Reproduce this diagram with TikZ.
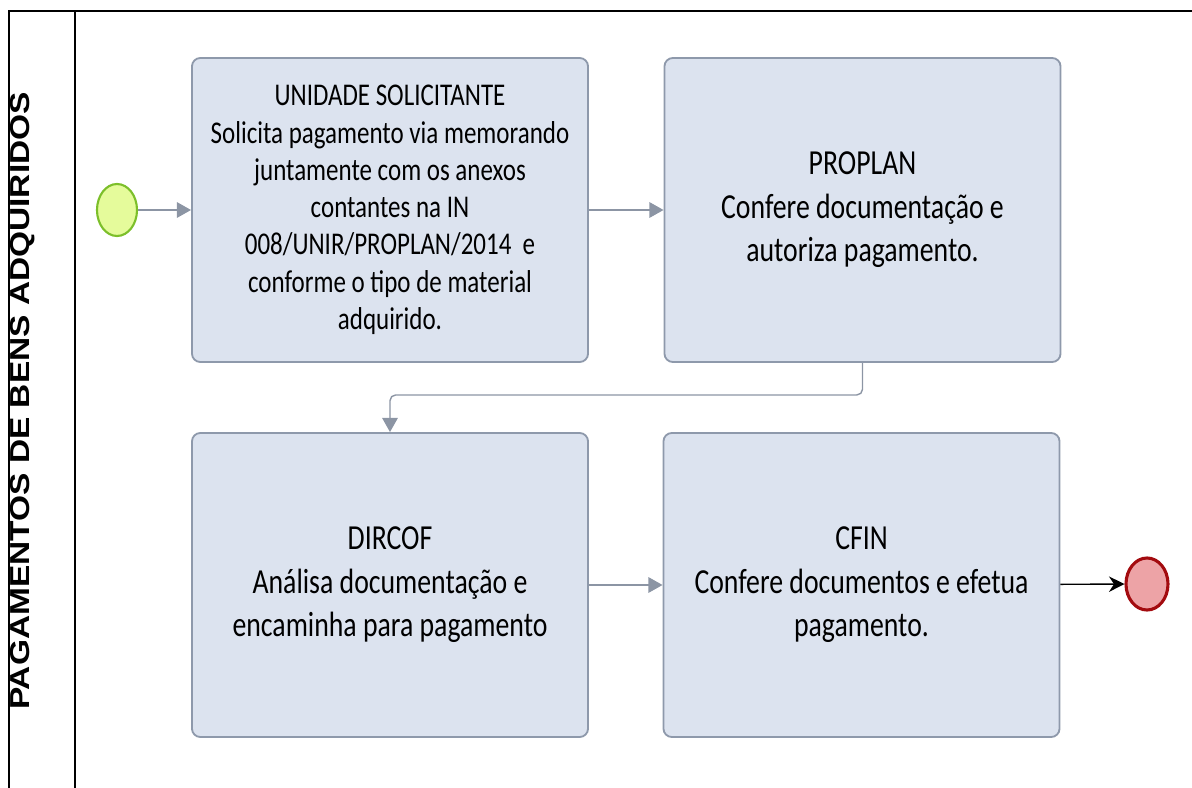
\documentclass[tikz,border=0pt]{standalone}
\usepackage{fontspec}
\setmainfont{Carlito}[FakeStretch=0.79]
\newfontfamily\lanefont{Liberation Sans}
\usepackage{tikz}
\usetikzlibrary{arrows.meta,shapes.geometric}

\definecolor{boxfill}{HTML}{DCE3EF}
\definecolor{boxline}{HTML}{8E99AB}
\definecolor{flowgray}{HTML}{8C95A4}
\definecolor{startfill}{HTML}{E5FB9B}
\definecolor{startline}{HTML}{7CBF2A}
\definecolor{endfill}{HTML}{EDA3A6}
\definecolor{endline}{HTML}{A30B0F}

\begin{document}
\begin{tikzpicture}[x=0.025cm,y=-0.025cm,
    task/.style={draw=boxline, fill=boxfill, line width=1.3pt, rounded corners=6pt,
      minimum width=9.9cm, minimum height=7.6cm, align=center, inner sep=0pt},
    smalltxt/.style={font=\fontsize{22.5pt}{26.5pt}\selectfont},
    bigtxt/.style={font=\fontsize{25pt}{31pt}\selectfont},
    flow/.style={draw=flowgray, line width=1pt, -{Triangle[length=10pt,width=11pt]}},
    endflow/.style={draw=black, line width=1pt, -{Stealth[length=11pt,width=11pt]}},
    startev/.style={ellipse, draw=startline, fill=startfill, line width=1.5pt,
      minimum width=1cm, minimum height=1.3cm, inner sep=0pt},
    endev/.style={ellipse, draw=endline, fill=endfill, line width=2.2pt,
      minimum width=1.05cm, minimum height=1.3cm, inner sep=0pt}]
  \useasboundingbox (0,0) rectangle (1192,788);

  % pool and lane
  \draw[line width=1pt] (1192,11) -- (9,11) -- (9,788);
  \draw[line width=1pt] (75,11) -- (75,788);
  \node[rotate=90, font=\lanefont\bfseries\fontsize{23.8pt}{28pt}\selectfont] (lane) at (23,401)
    {\scalebox{1}[0.82]{PAGAMENTOS DE BENS ADQUIRIDOS}};

  % events
  \node[startev] (start) at (117,210) {};
  \node[endev] (stop) at (1147,584) {};

  % tasks
  \node[task, smalltxt] (unidade) at (390,210)
    {UNIDADE SOLICITANTE\\Solicita pagamento via memorando\\juntamente com os anexos\\contantes na IN\\008/UNIR/PROPLAN/2014~ e\\conforme o tipo de material\\adquirido.};
  \node[task, bigtxt] (proplan) at (862.5,210)
    {PROPLAN\\Confere documentação e\\autoriza pagamento.};
  \node[task, bigtxt] (dircof) at (390,585)
    {DIRCOF\\Análisa documentação e\\encaminha para pagamento};
  \node[task, bigtxt] (cfin) at (861.5,585)
    {CFIN\\Confere documentos e efetua\\pagamento.};

  % sequence flows
  \draw[flow] (start) -- (unidade);
  \draw[flow] (unidade) -- (proplan);
  \draw[flow, rounded corners=4pt] (proplan.south) -- ++(0,32) -| (dircof.north);
  \draw[flow] (dircof) -- (cfin);
  \draw[endflow] (cfin) -- (stop);
\end{tikzpicture}
\end{document}
